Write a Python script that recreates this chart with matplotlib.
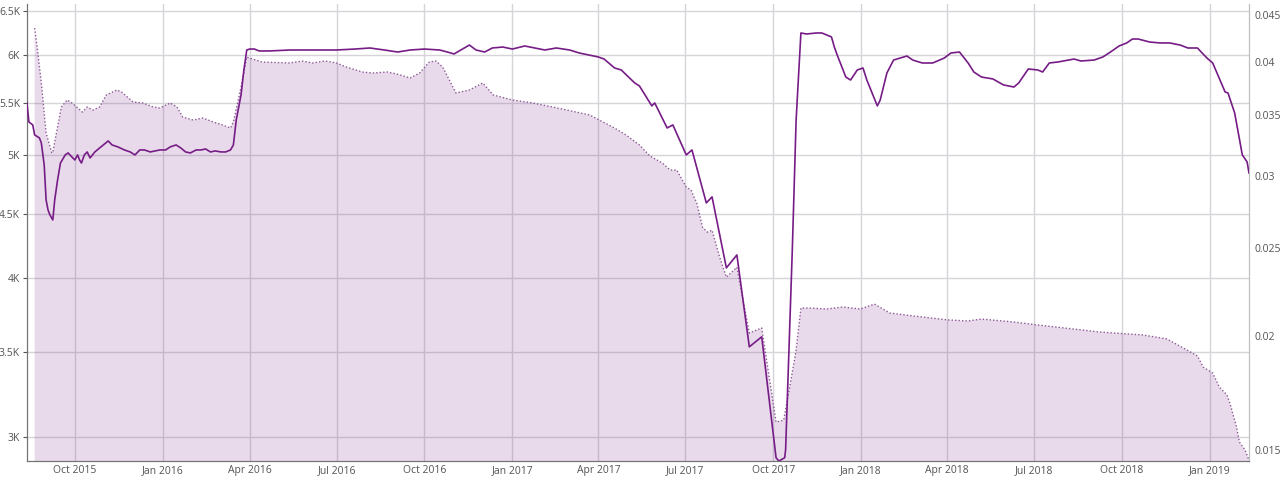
import matplotlib
matplotlib.use("Agg")
import matplotlib.pyplot as plt
import matplotlib.dates as mdates
import pandas as pd
from matplotlib.ticker import FixedLocator, FixedFormatter, NullLocator

plt.rcParams['font.family'] = ['Open Sans', 'DejaVu Sans']

# Filled series (left axis)
fill_dates = [
    "2015-08-20", "2015-08-23", "2015-08-27", "2015-09-01", "2015-09-07", "2015-09-08",
    "2015-09-13", "2015-09-17", "2015-09-23", "2015-09-28", "2015-10-03", "2015-10-09",
    "2015-10-14", "2015-10-20", "2015-10-27", "2015-11-03", "2015-11-14", "2015-11-19",
    "2015-12-01", "2015-12-11", "2015-12-22", "2015-12-29", "2016-01-09", "2016-01-16",
    "2016-01-22", "2016-02-02", "2016-02-12", "2016-02-23", "2016-03-04", "2016-03-12",
    "2016-03-15", "2016-03-23", "2016-03-29", "2016-04-04", "2016-04-14", "2016-05-13",
    "2016-05-26", "2016-06-06", "2016-06-19", "2016-07-01", "2016-07-11", "2016-07-28",
    "2016-08-08", "2016-08-23", "2016-09-02", "2016-09-16", "2016-09-26", "2016-10-06",
    "2016-10-13", "2016-10-20", "2016-11-03", "2016-11-17", "2016-12-01", "2016-12-12",
    "2017-01-01", "2017-01-22", "2017-02-12", "2017-02-27", "2017-03-23", "2017-04-02",
    "2017-04-16", "2017-04-30", "2017-05-14", "2017-05-25", "2017-06-07", "2017-06-15",
    "2017-06-22", "2017-07-02", "2017-07-07", "2017-07-13", "2017-07-19", "2017-07-24",
    "2017-07-29", "2017-08-06", "2017-08-13", "2017-08-24", "2017-09-06", "2017-09-19",
    "2017-10-04", "2017-10-12", "2017-10-19", "2017-10-25", "2017-10-30", "2017-11-08",
    "2017-11-26", "2017-12-13", "2017-12-31", "2018-01-15", "2018-01-31", "2018-02-24",
    "2018-04-02", "2018-04-23", "2018-05-07", "2018-06-10", "2018-07-05", "2018-08-02",
    "2018-09-07", "2018-10-06", "2018-10-23", "2018-11-17", "2018-12-08", "2018-12-19",
    "2018-12-25", "2019-01-04", "2019-01-11", "2019-01-19", "2019-01-22", "2019-01-29",
    "2019-02-01", "2019-02-07", "2019-02-11",
]
fill_values = [
    6301, 6055, 5703, 5208, 5022, 5031,
    5265, 5460, 5530, 5500, 5460, 5410,
    5460, 5430, 5460, 5580, 5631, 5610,
    5510, 5500, 5460, 5450, 5500, 5460,
    5361, 5332, 5352, 5313, 5284, 5255,
    5313, 5661, 5978, 5957, 5924, 5914,
    5935, 5914, 5935, 5914, 5871, 5818,
    5807, 5818, 5797, 5755, 5807, 5924,
    5935, 5871, 5600, 5631, 5703, 5580,
    5530, 5500, 5460, 5430, 5381, 5332,
    5265, 5189, 5096, 4995, 4932, 4870,
    4870, 4721, 4696, 4586, 4390, 4351,
    4366, 4157, 4009, 4082, 3623, 3656,
    3082, 3093, 3308, 3513, 3791, 3791,
    3784, 3798, 3784, 3818, 3757, 3737,
    3710, 3703, 3716, 3696, 3676, 3656,
    3630, 3617, 3610, 3584, 3513, 3475,
    3406, 3369, 3284, 3237, 3190, 3054,
    2972, 2929, 2876,
]

# Line series (right axis)
line_dates = [
    "2015-08-12", "2015-08-14", "2015-08-18", "2015-08-20", "2015-08-25", "2015-08-27",
    "2015-08-30", "2015-09-01", "2015-09-03", "2015-09-05", "2015-09-08", "2015-09-10",
    "2015-09-13", "2015-09-16", "2015-09-21", "2015-09-24", "2015-09-28", "2015-10-01",
    "2015-10-04", "2015-10-06", "2015-10-08", "2015-10-11", "2015-10-14", "2015-10-17",
    "2015-10-22", "2015-10-27", "2015-10-31", "2015-11-05", "2015-11-09", "2015-11-15",
    "2015-11-22", "2015-11-28", "2015-12-03", "2015-12-08", "2015-12-13", "2015-12-19",
    "2015-12-29", "2016-01-04", "2016-01-09", "2016-01-15", "2016-01-20", "2016-01-25",
    "2016-01-30", "2016-02-05", "2016-02-10", "2016-02-15", "2016-02-20", "2016-02-25",
    "2016-03-02", "2016-03-07", "2016-03-12", "2016-03-15", "2016-03-18", "2016-03-23",
    "2016-03-26", "2016-03-29", "2016-04-01", "2016-04-06", "2016-04-11", "2016-04-22",
    "2016-05-13", "2016-06-03", "2016-07-01", "2016-07-20", "2016-08-05", "2016-08-20",
    "2016-09-03", "2016-09-16", "2016-10-01", "2016-10-17", "2016-10-25", "2016-11-01",
    "2016-11-08", "2016-11-17", "2016-11-24", "2016-12-03", "2016-12-11", "2016-12-22",
    "2017-01-01", "2017-01-14", "2017-02-04", "2017-02-16", "2017-03-02", "2017-03-12",
    "2017-03-22", "2017-04-01", "2017-04-07", "2017-04-18", "2017-04-25", "2017-05-09",
    "2017-05-14", "2017-05-27", "2017-05-30", "2017-06-12", "2017-06-18", "2017-07-02",
    "2017-07-08", "2017-07-23", "2017-07-29", "2017-08-13", "2017-08-24", "2017-09-06",
    "2017-09-19", "2017-10-04", "2017-10-07", "2017-10-13", "2017-10-14", "2017-10-21",
    "2017-10-25", "2017-10-30", "2017-11-05", "2017-11-15", "2017-11-21", "2017-12-01",
    "2017-12-04", "2017-12-07", "2017-12-16", "2017-12-21", "2017-12-28", "2018-01-03",
    "2018-01-07", "2018-01-18", "2018-01-21", "2018-01-28", "2018-02-04", "2018-02-11",
    "2018-02-18", "2018-02-24", "2018-03-06", "2018-03-17", "2018-03-29", "2018-04-05",
    "2018-04-14", "2018-04-23", "2018-04-29", "2018-05-07", "2018-05-19", "2018-05-30",
    "2018-06-10", "2018-06-15", "2018-06-25", "2018-07-05", "2018-07-10", "2018-07-17",
    "2018-07-26", "2018-08-06", "2018-08-12", "2018-08-19", "2018-09-02", "2018-09-11",
    "2018-09-19", "2018-09-28", "2018-10-06", "2018-10-12", "2018-10-18", "2018-10-30",
    "2018-11-10", "2018-11-20", "2018-12-01", "2018-12-09", "2018-12-19", "2018-12-29",
    "2019-01-04", "2019-01-17", "2019-01-20", "2019-01-27", "2019-02-04", "2019-02-09",
    "2019-02-11",
]
line_values = [
    0.03607, 0.03438, 0.03412, 0.03327, 0.03302, 0.03260,
    0.03084, 0.02823, 0.02753, 0.02718, 0.02684, 0.02823,
    0.02969, 0.03099, 0.03163, 0.03179, 0.03147, 0.03123,
    0.03163, 0.03123, 0.03099, 0.03163, 0.03187, 0.03139,
    0.03187, 0.03219, 0.03244, 0.03277, 0.03244, 0.03228,
    0.03203, 0.03187, 0.03163, 0.03203, 0.03203, 0.03187,
    0.03203, 0.03203, 0.03228, 0.03244, 0.03219, 0.03187,
    0.03179, 0.03203, 0.03203, 0.03211, 0.03187, 0.03195,
    0.03187, 0.03187, 0.03203, 0.03244, 0.03455, 0.03680,
    0.03920, 0.04123, 0.04133, 0.04133, 0.04113, 0.04113,
    0.04123, 0.04123, 0.04123, 0.04133, 0.04144, 0.04123,
    0.04102, 0.04123, 0.04133, 0.04123, 0.04102, 0.04082,
    0.04123, 0.04175, 0.04123, 0.04102, 0.04144, 0.04154,
    0.04133, 0.04165, 0.04123, 0.04144, 0.04123, 0.04092,
    0.04071, 0.04051, 0.04030, 0.03940, 0.03920, 0.03794,
    0.03765, 0.03580, 0.03607, 0.03386, 0.03412, 0.03163,
    0.03203, 0.02802, 0.02845, 0.02378, 0.02457, 0.01948,
    0.01998, 0.01472, 0.01460, 0.01472, 0.01502, 0.02488,
    0.03455, 0.04304, 0.04293, 0.04304, 0.04304, 0.04261,
    0.04154, 0.04071, 0.03851, 0.03822, 0.03920, 0.03940,
    0.03822, 0.03580, 0.03634, 0.03890, 0.04020, 0.04040,
    0.04061, 0.04020, 0.03990, 0.03990, 0.04040, 0.04092,
    0.04102, 0.03990, 0.03900, 0.03851, 0.03832, 0.03775,
    0.03755, 0.03794, 0.03930, 0.03920, 0.03900, 0.03990,
    0.04000, 0.04020, 0.04030, 0.04010, 0.04020, 0.04051,
    0.04102, 0.04165, 0.04197, 0.04239, 0.04239, 0.04207,
    0.04197, 0.04197, 0.04175, 0.04144, 0.04144, 0.04040,
    0.03990, 0.03708, 0.03699, 0.03517, 0.03163, 0.03108,
    0.03022,
]

left_ticks = [3000, 3500, 4000, 4500, 5000, 5500, 6000, 6500]
left_labels = ["3K", "3.5K", "4K", "4.5K", "5K", "5.5K", "6K", "6.5K"]
right_ticks = [0.015, 0.02, 0.025, 0.03, 0.035, 0.04, 0.045]
right_labels = ["0.015", "0.02", "0.025", "0.03", "0.035", "0.04", "0.045"]
x_ticks = ["2015-10-01", "2016-01-01", "2016-04-01", "2016-07-01", "2016-10-01",
           "2017-01-01", "2017-04-01", "2017-07-01", "2017-10-01", "2018-01-01",
           "2018-04-01", "2018-07-01", "2018-10-01", "2019-01-01"]
x_labels = ["Oct 2015", "Jan 2016", "Apr 2016", "Jul 2016", "Oct 2016", "Jan 2017",
            "Apr 2017", "Jul 2017", "Oct 2017", "Jan 2018", "Apr 2018", "Jul 2018",
            "Oct 2018", "Jan 2019"]

fd = pd.to_datetime(fill_dates)
ld = pd.to_datetime(line_dates)

fig = plt.figure(figsize=(12.8, 4.79), dpi=100)
ax = fig.add_axes([27/1280, 18/479, (1249-27)/1280, (461-4)/479])
ax2 = ax.twinx()

ax.set_yscale('log')
ax.set_ylim(2872, 6582)
ax2.set_yscale('log')
ax2.set_ylim(0.0146, 0.04631)
ax.set_xlim(pd.Timestamp("2015-08-12"), pd.Timestamp("2019-02-11"))

fill_col = (128/255, 40/255, 140/255)
ax.fill_between(fd, fill_values, 1000, color=fill_col, alpha=0.17, linewidth=0, zorder=2)
ax.plot(fd, fill_values, color=(140/255, 90/255, 150/255), linestyle=(0, (1, 1.5)),
        linewidth=1.0, zorder=3)
ax2.plot(ld, line_values, color=(118/255, 28/255, 134/255), linewidth=1.2, zorder=4)

grid_col = (0.83, 0.83, 0.85)
ax.yaxis.set_major_locator(FixedLocator(left_ticks))
ax.yaxis.set_major_formatter(FixedFormatter(left_labels))
ax.yaxis.set_minor_locator(NullLocator())
ax2.yaxis.set_major_locator(FixedLocator(right_ticks))
ax2.yaxis.set_major_formatter(FixedFormatter(right_labels))
ax2.yaxis.set_minor_locator(NullLocator())
ax.xaxis.set_major_locator(FixedLocator(mdates.date2num(pd.to_datetime(x_ticks))))
ax.xaxis.set_major_formatter(FixedFormatter(x_labels))

ax.set_axisbelow(True)
ax.grid(True, which='major', color=grid_col, linewidth=1.0, zorder=0)

lbl_col = (0.33, 0.33, 0.33)
ax.tick_params(axis='y', labelsize=7.5, colors=lbl_col, length=3, width=0.8, pad=2)
ax.tick_params(axis='x', labelsize=7.5, colors=lbl_col, length=0, pad=3)
ax2.tick_params(axis='y', labelsize=7.5, colors=lbl_col, length=0, pad=4)

for a in (ax, ax2):
    a.spines['top'].set_visible(False)
    a.spines['left'].set_color((0.45, 0.45, 0.45))
    a.spines['bottom'].set_color((0.45, 0.45, 0.45))
    a.spines['right'].set_color((0.75, 0.75, 0.75))
ax.patch.set_visible(False)

fig.savefig("out.png", dpi=100)
